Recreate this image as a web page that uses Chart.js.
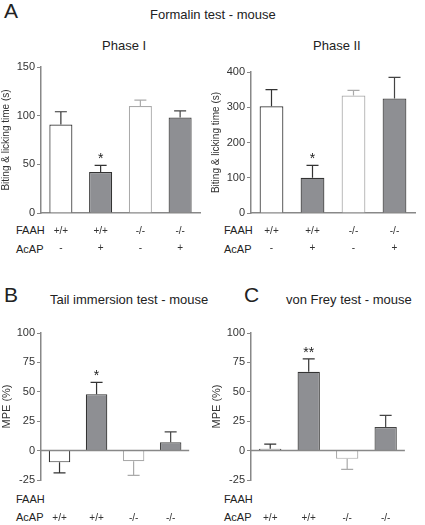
<!DOCTYPE html>
<html><head><meta charset="utf-8">
<script src="https://cdn.jsdelivr.net/npm/chart.js@4"></script>
<style>
body{margin:0;background:#fff;font-family:"Liberation Sans",Arial,sans-serif;color:#222}
.t{position:absolute;white-space:nowrap}
canvas{position:absolute}
</style></head><body>
<div class="t" style="left:4px;top:-1px;font-size:21px">A</div>
<div class="t" style="left:150px;top:7px;font-size:13px">Formalin test - mouse</div>
<div class="t" style="left:102px;top:38px;font-size:13px">Phase I</div>
<div class="t" style="left:313px;top:38px;font-size:13px">Phase II</div>
<div class="t" style="left:4px;top:283px;font-size:21px">B</div>
<div class="t" style="left:50px;top:292px;font-size:13px">Tail immersion test - mouse</div>
<div class="t" style="left:244px;top:283px;font-size:21px">C</div>
<div class="t" style="left:286px;top:292px;font-size:13px">von Frey test - mouse</div>
<div class="t" style="left:16px;top:224px;font-size:11px">FAAH</div>
<div class="t" style="left:16px;top:243px;font-size:11px">AcAP</div>
<div class="t" style="left:224px;top:224px;font-size:11px">FAAH</div>
<div class="t" style="left:224px;top:243px;font-size:11px">AcAP</div>
<div class="t" style="left:16px;top:493px;font-size:11px">FAAH</div>
<div class="t" style="left:16px;top:511px;font-size:11px">AcAP</div>
<div class="t" style="left:224px;top:493px;font-size:11px">FAAH</div>
<div class="t" style="left:224px;top:511px;font-size:11px">AcAP</div>
<canvas id="c1"></canvas><canvas id="c2"></canvas><canvas id="c3"></canvas><canvas id="c4"></canvas>
<script>
const faah = ['+/+','+/+','-/-','-/-'];
const acap = ['-','+','-','+'];
const phase1 = [91,42,110,98];
const phase1Err = [13,7,6,7];
const phase2 = [303,100,333,325];
const phase2Err = [47,35,15,60];
const tail = [-10,48,-9,7];
const tailErr = [9,10,12,9];
const frey = [1.5,67,-7,20];
const freyErr = [4,11,9,10];
const stars = ['', '*', '', ''];
const stars2 = ['', '**', '', ''];

const fills = ['#ffffff','#8e8f93','#ffffff','#8e8f93'];
const borders = ['#333333','#333333','#aaaaaa','#444444'];
const axisC = '#888';

const errPlugin = {
  id:'err',
  afterDatasetsDraw(ch, a, o){
    const ctx = ch.ctx, meta = ch.getDatasetMeta(0), y = ch.scales.y, ds = ch.data.datasets[0];
    ctx.save();
    if (o.zero) {
      ctx.strokeStyle = axisC; ctx.lineWidth = 1.5;
      ctx.beginPath(); ctx.moveTo(ch.chartArea.left, y.getPixelForValue(0)); ctx.lineTo(ch.chartArea.right, y.getPixelForValue(0)); ctx.stroke();
    }
    meta.data.forEach((b,i)=>{
      const v = ds.data[i], e = o.err[i];
      const end = v >= 0 ? v + e : v - e;
      const py = y.getPixelForValue(end), pv = y.getPixelForValue(v);
      ctx.strokeStyle = borders[i]; ctx.lineWidth = 1.2;
      ctx.beginPath(); ctx.moveTo(b.x, pv); ctx.lineTo(b.x, py);
      ctx.moveTo(b.x-6, py); ctx.lineTo(b.x+6, py); ctx.stroke();
      if (o.stars[i]) {
        ctx.fillStyle = '#222'; ctx.font = '14px "Liberation Sans"'; ctx.textAlign = 'center';
        ctx.fillText(o.stars[i], b.x, py - 2);
      }
    });
    ctx.restore();
  }
};

function make(id, left, top, w, h, vals, err, st, min, max, step, title, zero){
  const cv = document.getElementById(id);
  cv.style.left = left+'px'; cv.style.top = top+'px';
  cv.width = w; cv.height = h;
  cv.style.width = w+'px'; cv.style.height = h+'px';
  new Chart(cv, {
    type:'bar',
    data:{labels: faah.map((f,i)=>[f, acap[i]]), datasets:[{data: vals, backgroundColor: fills, borderColor: borders, borderWidth: 1.2, barPercentage: 0.58, categoryPercentage: 1}]},
    options:{
      responsive:false, animation:false, devicePixelRatio:1,
      layout:{padding:{top:12, right:5, left:0, bottom:0}},
      plugins:{legend:{display:false}, tooltip:{enabled:false}, err:{err, stars:st, zero}},
      scales:{
        x:{grid:{display:false, drawTicks:false}, border:{display:!zero, color:axisC, width:1.5},
           ticks:{color:'#333', font:{size:10, family:'Liberation Sans', lineHeight:1.75}, padding:zero?29:9},
           afterFit:s=>{s.height=50;}},
        y:{min, max, grid:{display:true, drawOnChartArea:false, tickLength:4, color:axisC},
           border:{color:axisC, width:1.5},
           ticks:{stepSize:step, color:'#333', font:{size:11, family:'Liberation Sans'}, padding:2},
           title:{display:true, text:title, color:'#333', font:{size:title.length>10?10:11, family:'Liberation Sans'}, padding:0},
           afterFit:s=>{s.width=41;}}
      }
    },
    plugins:[errPlugin]
  });
}
make('c1', 0, 55, 205, 208, phase1, phase1Err, stars, 0, 150, 50, 'Biting & licking time (s)', false);
make('c2', 210, 60, 210, 203, phase2, phase2Err, stars, 0, 400, 100, 'Biting & licking time (s)', false);
make('c3', 0, 321, 205, 209, tail, tailErr, stars, -25, 100, 25, 'MPE (%)', true);
make('c4', 210, 321, 210, 209, frey, freyErr, stars2, -25, 100, 25, 'MPE (%)', true);
</script></body></html>
